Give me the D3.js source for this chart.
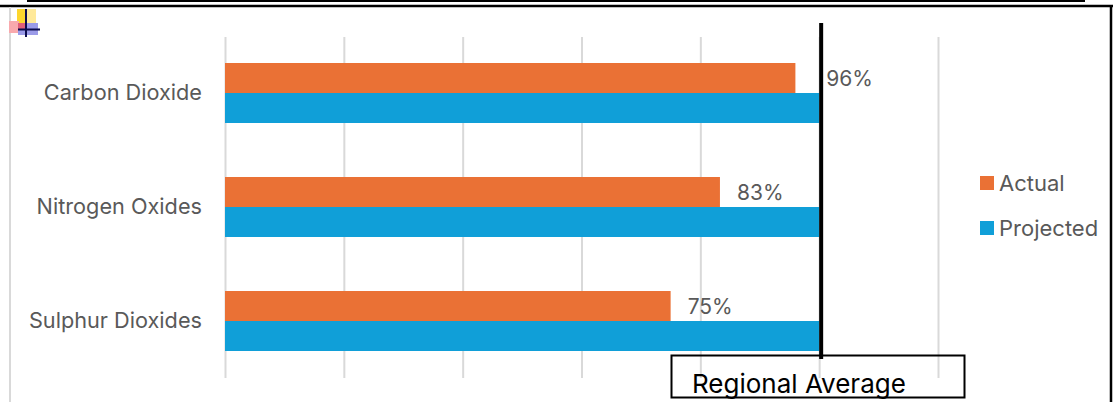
<!DOCTYPE html>
<html>
<head>
<meta charset="utf-8">
<script src="https://cdn.jsdelivr.net/npm/d3@7"></script>
<style>
  html, body { margin: 0; padding: 0; background: #fff; }
  svg { display: block; font-family: Inter, "Open Sans", sans-serif; }
</style>
</head>
<body>
<svg id="chart" width="1113" height="402"></svg>
<script>
// data
const categories = ["Carbon Dioxide", "Nitrogen Oxides", "Sulphur Dioxides"];
const actual = [96, 83.3, 75];
const projected = [100, 100, 100];
const xTicks = [0, 20, 40, 60, 80, 100, 120];
const seriesNames = ["Actual", "Projected"];
const regionalAverage = 100;
const averageLabel = "Regional Average";

const orange = "#ea7135";
const blue = "#109fd8";
const grey = "#595959";

const svg = d3.select("#chart");

const xScale = d3.scaleLinear().domain([0, 120]).range([225, 938]);
const yScale = d3.scaleBand().domain(categories).range([36, 378]);
const barScale = d3.scaleBand().domain(seriesNames).range([0, 60]);
const barOffset = (yScale.bandwidth() - 60) / 2;

// page frame
svg.append("line").attr("x1", 27).attr("x2", 1085).attr("y1", 1).attr("y2", 1)
   .attr("stroke", "#000").attr("stroke-width", 2);
svg.append("line").attr("x1", 0).attr("x2", 1113).attr("y1", 6).attr("y2", 6)
   .attr("stroke", "#000").attr("stroke-width", 2.5);
svg.append("line").attr("x1", 1111).attr("x2", 1111).attr("y1", 6).attr("y2", 402)
   .attr("stroke", "#000").attr("stroke-width", 2.5);
svg.append("line").attr("x1", 10).attr("x2", 10).attr("y1", 7).attr("y2", 402)
   .attr("stroke", "#d9d9d9").attr("stroke-width", 2);

// little embedded icon at the top left
const blur = svg.append("defs").append("filter").attr("id", "soft");
blur.append("feGaussianBlur").attr("stdDeviation", 0.6);

const icon = svg.append("g").attr("filter", "url(#soft)");
icon.append("rect").attr("x", 17).attr("y", 9).attr("width", 19).attr("height", 15).attr("fill", "#ffe99a");
icon.append("rect").attr("x", 17).attr("y", 9).attr("width", 10).attr("height", 15).attr("fill", "#fdd62e");
icon.append("rect").attr("x", 9).attr("y", 21).attr("width", 10).attr("height", 12).attr("fill", "#f9a9ad");
icon.append("rect").attr("x", 18).attr("y", 23).attr("width", 20).attr("height", 12).attr("fill", "#9b9be8");
icon.append("rect").attr("x", 18).attr("y", 23).attr("width", 8).attr("height", 6).attr("fill", "#e0607a");
icon.append("line").attr("x1", 26).attr("x2", 26).attr("y1", 9).attr("y2", 37).attr("stroke", "#0a0a50").attr("stroke-width", 2);
icon.append("line").attr("x1", 18).attr("x2", 40).attr("y1", 29.5).attr("y2", 29.5).attr("stroke", "#0a0a50").attr("stroke-width", 2);

// gridlines
svg.append("g")
   .attr("transform", "translate(0,378)")
   .call(d3.axisBottom(xScale).tickValues(xTicks).tickSize(-341).tickFormat(""))
   .call(g => g.select(".domain").remove())
   .selectAll("line").attr("stroke", "#d9d9d9").attr("stroke-width", 2);

// category labels
svg.append("g").selectAll("text")
   .data(categories)
   .enter()
   .append("text")
   .attr("x", 202)
   .attr("y", d => yScale(d) + yScale.bandwidth() / 2 - 1)
   .attr("dy", "0.35em")
   .attr("text-anchor", "end")
   .attr("font-size", 21.7)
   .attr("fill", grey)
   .text(d => d);

// bars
svg.append("g").selectAll("rect")
   .data(categories)
   .enter()
   .append("rect")
   .attr("x", xScale(0))
   .attr("y", d => yScale(d) + barOffset + barScale("Actual"))
   .attr("width", (d, i) => xScale(actual[i]) - xScale(0))
   .attr("height", barScale.bandwidth())
   .attr("fill", orange);

svg.append("g").selectAll("rect")
   .data(categories)
   .enter()
   .append("rect")
   .attr("x", xScale(0))
   .attr("y", d => yScale(d) + barOffset + barScale("Projected"))
   .attr("width", (d, i) => xScale(projected[i]) - xScale(0))
   .attr("height", barScale.bandwidth())
   .attr("fill", blue);

// value labels, the one that would hit the average line sits right of it
svg.append("g").selectAll("text")
   .data(categories)
   .enter()
   .append("text")
   .attr("x", (d, i) => actual[i] > 90 ? xScale(regionalAverage) + 7 : xScale(actual[i]) + 17)
   .attr("y", d => yScale(d) + barOffset + barScale("Actual") + 16)
   .attr("dy", "0.35em")
   .attr("font-size", 21)
   .attr("fill", grey)
   .text((d, i) => Math.round(actual[i]) + "%");

// regional average line and box
svg.append("line")
   .attr("x1", xScale(regionalAverage) + 2).attr("x2", xScale(regionalAverage) + 2)
   .attr("y1", 23).attr("y2", 359)
   .attr("stroke", "#000").attr("stroke-width", 4);

svg.append("rect")
   .attr("x", 671.5).attr("y", 355.5).attr("width", 293).attr("height", 42)
   .attr("fill", "none").attr("stroke", "#000").attr("stroke-width", 2);

svg.append("text")
   .attr("x", 692).attr("y", 393)
   .attr("font-size", 26)
   .attr("fill", "#000")
   .text(averageLabel);

// legend
const legend = svg.append("g").selectAll("g")
   .data(seriesNames)
   .enter()
   .append("g")
   .attr("transform", (d, i) => `translate(980,${176 + i * 45})`);

legend.append("rect")
   .attr("width", 14).attr("height", 14)
   .attr("fill", (d, i) => i === 0 ? orange : blue);

legend.append("text")
   .attr("x", 19).attr("y", 7)
   .attr("dy", "0.35em")
   .attr("font-size", 22)
   .attr("fill", grey)
   .text(d => d);
</script>
</body>
</html>
